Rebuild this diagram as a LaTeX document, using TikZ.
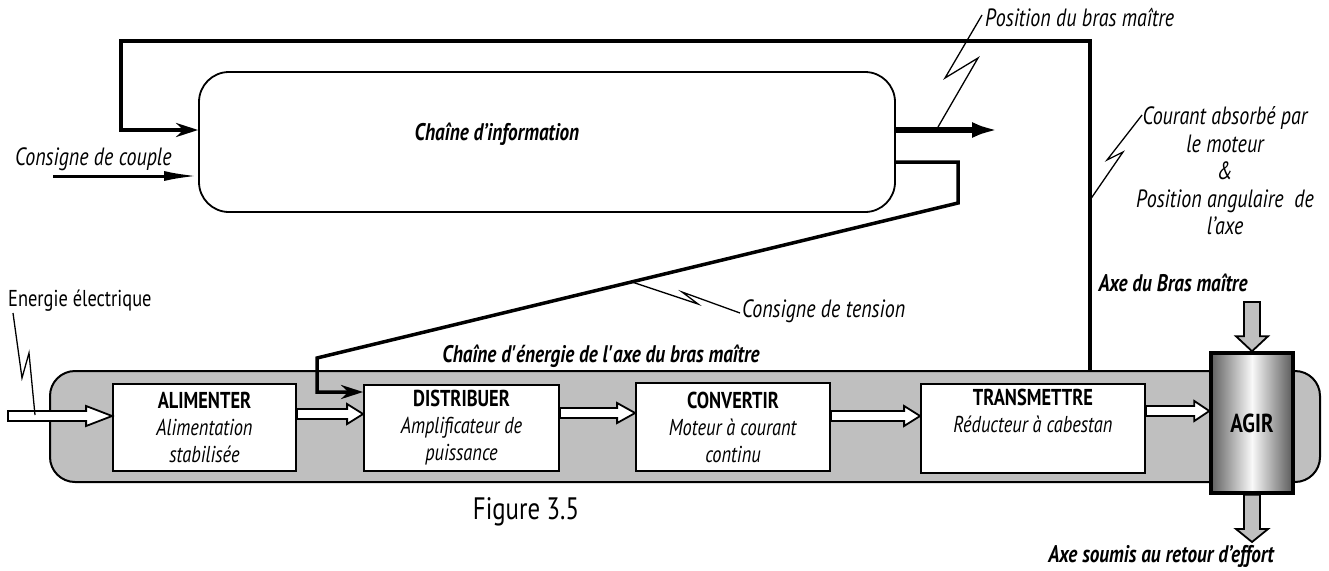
\documentclass[tikz,border=0pt]{standalone}
\usepackage{fontspec}
\setmainfont{PT Sans}[FakeStretch=0.8]
\usetikzlibrary{arrows.meta,calc}
\newcommand\labfont{\itshape\fontsize{25}{27.5}\selectfont}
\newcommand\bifont{\bfseries\itshape\fontsize{24}{27}\selectfont}
\newcommand\boxfont{\fontsize{23}{27}\selectfont}
% horizontal hollow arrow: style, from, to, head length
\newcommand\harr[4]{\draw[#1] let \p1=#2, \p2=#3 in (\x1,\y1+5pt) -- (\x2-#4,\y1+5pt) -- (\x2-#4,\y1+10pt) -- (\x2,\y1) -- (\x2-#4,\y1-10pt) -- (\x2-#4,\y1-5pt) -- (\x1,\y1-5pt) -- cycle;}
% vertical hollow arrow (downwards): style, from, to, head length
\newcommand\varr[4]{\draw[#1] let \p1=#2, \p2=#3 in (\x1-8pt,\y1) -- (\x1-8pt,\y2+#4) -- (\x1-16pt,\y2+#4) -- (\x1,\y2) -- (\x1+16pt,\y2+#4) -- (\x1+8pt,\y2+#4) -- (\x1+8pt,\y1) -- cycle;}
\begin{document}
\begin{tikzpicture}[x=1pt,y=-1pt,
  box/.style={draw, line width=1.8pt, fill=white, align=center, inner sep=0pt, font=\boxfont},
  thickln/.style={line width=3.5pt},
  zig/.style={line width=1.3pt, line join=miter},
  hol/.style={draw, line width=1.8pt, fill=white, line join=miter},
  gra/.style={draw, line width=1.8pt, fill=gray!50, line join=miter},
  lbl/.style={inner sep=0pt, font=\labfont, align=center},
  bil/.style={inner sep=0pt, font=\bifont, align=center}]
\useasboundingbox (0,0) rectangle (1329,570);

% information chain
\node[draw, line width=1.8pt, rounded corners=30pt, minimum width=696pt, minimum height=140pt, inner sep=0pt] (info) at (547,142) {};
\node[bil] (infotxt) at (497,134) {Chaîne d’information};

% energy chain band
\node[draw, line width=2pt, fill=gray!50, rounded corners=25pt, minimum width=1270pt, minimum height=111pt, inner sep=0pt] (band) at (685,426.5) {};

% top feedback loop
\coordinate (fbR) at (1090,41);
\coordinate (fbL) at (121,41);
\draw[thickln, line join=miter, -{Stealth[length=22pt,width=14pt]}] (band.north -| fbR) -- (fbR) -- (fbL) -- (fbL |- 0,130) -- (info.west |- 0,130);

% consigne de couple
\coordinate (cc) at (53,176);
\draw[line width=3pt, -{Latex[length=34pt,width=10pt]}] (cc) -- (info.west |- cc);
\node[lbl, anchor=west] (cctxt) at (15,159) {Consigne de couple};

% output position
\coordinate (posend) at (998,130);
\draw[line width=6pt, -{Latex[length=26pt,width=16pt]}] (info.east |- posend) -- (posend);
\coordinate (z1a) at (938,127);
\draw[zig] (z1a) -- (978,58) -- (945,78) -- (982,15);
\node[lbl, anchor=west] (postxt) at (985,17) {Position du bras maître};

% boxes
\node[box, minimum width=183pt, minimum height=87pt] (alim) at (204.5,427.5) {\textbf{ALIMENTER}\\\textit{Alimentation}\\\textit{stabilisée}};
\node[box, minimum width=195pt, minimum height=86pt] (dist) at (461.5,428) {\textbf{DISTRIBUER}\\\textit{Amplificateur de}\\\textit{puissance}};
\node[box, minimum width=194pt, minimum height=88pt] (conv) at (733,427) {\textbf{CONVERTIR}\\\textit{Moteur à courant}\\\textit{continu}};
\node[box, minimum width=224pt, minimum height=89pt] (trans) at (1033,428.5) {\textbf{TRANSMETTRE}\\\textit{Réducteur à cabestan}\\[8pt]};
\node[draw, line width=3.5pt, minimum width=82pt, minimum height=140pt, inner sep=0pt,
  left color=gray!75!black, right color=gray!70!black, middle color=gray!5,
  font=\bfseries\fontsize{26}{30}\selectfont] (agir) at (1252,423) {AGIR};

% second feedback: consigne de tension
\coordinate (t1) at (958,162);
\coordinate (t2) at (958,203);
\coordinate (t3) at (317,358);
\coordinate (t4) at (317,392);
\draw[thickln, line join=miter, -{Stealth[length=22pt,width=14pt]}] (info.east |- t1) -- (t1) -- (t2) -- (t3) -- (t4) -- (dist.west |- t4);
\coordinate (z2a) at (632,282);
\draw[zig] (z2a) -- (698,304) -- (682,292) -- (740,313);
\node[lbl, anchor=west] (tentxt) at (742,311) {Consigne de tension};

% courant / position angulaire
\coordinate (z3a) at (1090,200);
\draw[zig] (z3a) -- (1123,152) -- (1107,160) -- (1142,115);
\node[lbl] (courtxt) at (1225,171) {Courant absorbé par\\le moteur\\\&\\Position angulaire~ de\\l’axe};

% energy input
\coordinate (ein) at (8,416);
\harr{hol}{(ein)}{(alim.west |- ein)}{26pt}
\draw[zig] (13,313) -- (22,378) -- (29,353) -- (35,415);
\node[inner sep=0pt, font=\boxfont, anchor=west] (eetxt) at (8,301) {Energie électrique};

% arrows between boxes
\harr{hol}{(alim.east |- 0,414)}{(dist.west |- 0,414)}{16pt}
\harr{hol}{(dist.east |- 0,413)}{(conv.west |- 0,413)}{18pt}
\harr{hol}{(conv.east |- 0,416)}{(trans.west |- 0,416)}{16pt}
\harr{hol}{(trans.east |- 0,411)}{(agir.west |- 0,411)}{15pt}

% grey arrows on AGIR
\coordinate (gtop) at (1252,302);
\varr{gra}{(gtop)}{(agir.north)}{15pt}
\coordinate (gbot) at (1252,542);
\varr{gra}{(agir.south)}{(gbot)}{13pt}

% labels
\node[bil] (chenr) at (601,356) {Chaîne d\textquotesingle énergie de l\textquotesingle axe du bras maître};
\node[bil] (axebm) at (1173,283) {Axe du Bras maître};
\node[bil] (axesr) at (1161,556) {Axe soumis au retour d’effort};
\node[inner sep=0pt, font=\fontsize{31}{34}\selectfont] (fig) at (526,512) {Figure 3.5};
\end{tikzpicture}
\end{document}
